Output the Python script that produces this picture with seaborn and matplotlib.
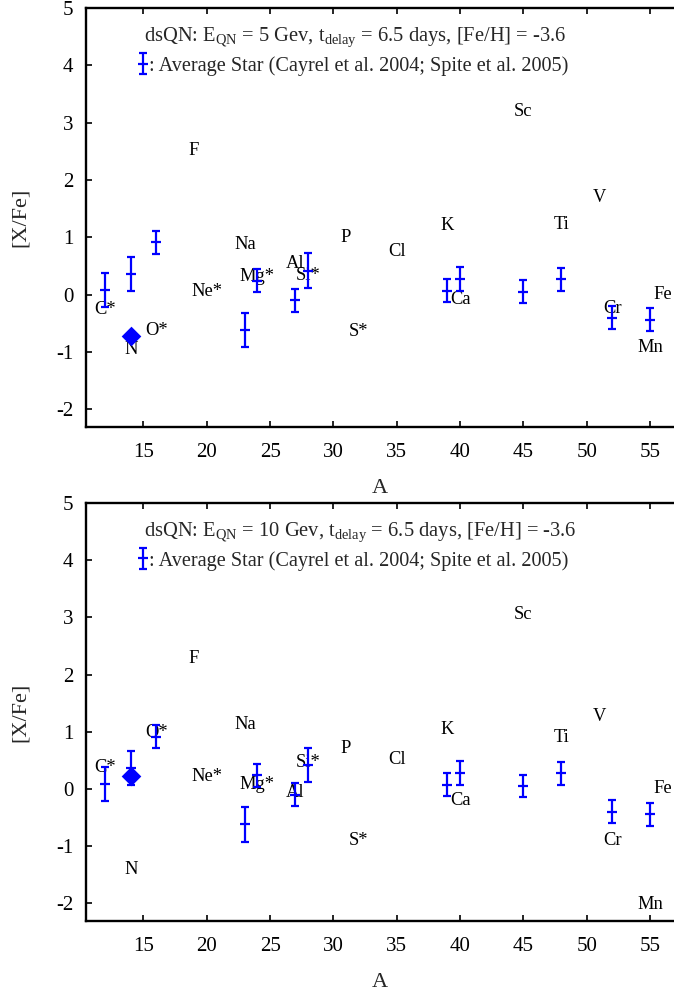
import numpy as np
import pandas as pd
import matplotlib
matplotlib.use("Agg")
import matplotlib.pyplot as plt
import seaborn as sns

# Element labels placed at (mass number, model [X/Fe])
elements = ["C*", "N", "O*", "F", "Ne*", "Na", "Mg*", "Al", "Si*", "P",
            "S*", "Cl", "K", "Ca", "Sc", "Ti", "V", "Cr", "Mn", "Fe"]
mass_number = [12, 14, 16, 19, 20, 23, 24, 27, 28, 31,
               32, 35, 39, 40, 45, 48, 51, 52, 55, 56]
xfe_5gev = [-0.26, -0.95, -0.62, 2.52, 0.06, 0.87, 0.32, 0.55, 0.33, 1.00,
            -0.65, 0.76, 1.20, -0.09, 3.19, 1.23, 1.70, -0.24, -0.92, 0.00]
xfe_10gev = [0.38, -1.41, 0.99, 2.28, 0.21, 1.12, 0.08, -0.07, 0.46, 0.70,
             -0.90, 0.51, 1.04, -0.21, 3.05, 0.90, 1.26, -0.90, -2.02, 0.00]

# Average metal-poor star abundances with uncertainties
star_A = [12, 14, 16, 23, 24, 27, 28, 39, 40, 45, 48, 52, 55]
star_xfe = [0.08, 0.36, 0.91, -0.62, 0.24, -0.10, 0.42, 0.07, 0.28, 0.05, 0.27, -0.40, -0.44]
star_err = [0.30, 0.30, 0.20, 0.30, 0.20, 0.20, 0.30, 0.20, 0.21, 0.20, 0.20, 0.20, 0.20]

# Nitrogen point for each model
nitrogen_A = 14
nitrogen_xfe = [-0.72, 0.22]

energies = [5, 10]
x_ticks = [15, 20, 25, 30, 35, 40, 45, 50, 55]
y_ticks = [-2, -1, 0, 1, 2, 3, 4, 5]

sns.set_style("ticks")
plt.rcParams.update({
    "font.family": ["Liberation Serif", "DejaVu Serif"],
    "mathtext.fontset": "custom",
    "mathtext.rm": "Liberation Serif",
    "mathtext.it": "Liberation Serif:italic",
    "axes.unicode_minus": False,
})

W, H = 674, 994
fig = plt.figure(figsize=(W / 100, H / 100), dpi=100)
positions = [[86 / W, 567 / H, 588 / W, 419 / H],
             [86 / W, 73 / H, 588 / W, 418 / H]]

star_df = pd.DataFrame({"A": star_A, "xfe": star_xfe, "err": star_err})

for pos, energy, model, n_val in zip(positions, energies, [xfe_5gev, xfe_10gev], nitrogen_xfe):
    ax = fig.add_axes(pos)
    ax.set_facecolor("white")

    for el, a, v in zip(elements, mass_number, model):
        ax.text(a, v, el, ha="center", va="center", fontsize=13.3, color="black", zorder=2)

    eb = ax.errorbar(star_df["A"], star_df["xfe"], yerr=star_df["err"], fmt="_", ls="none",
                     color="blue", ecolor="blue", elinewidth=1.6, capsize=2.6, capthick=1.6,
                     markersize=7.5, mew=1.6, zorder=3)

    nd = pd.DataFrame({"A": [nitrogen_A], "xfe": [n_val]})
    sns.scatterplot(data=nd, x="A", y="xfe", marker="D", s=100, color="blue",
                    edgecolor="blue", linewidth=0, ax=ax, zorder=4, legend=False)

    ax.set_xlim(10.47, 56.88)
    ax.set_ylim(-2.31, 5)
    ax.set_xticks(x_ticks)
    ax.set_yticks(y_ticks)
    ax.tick_params(axis="both", direction="in", length=4.3, width=1.2, top=True,
                   right=False, labelsize=15, color="black", labelcolor="black")
    ax.tick_params(axis="x", pad=11.5)
    ax.tick_params(axis="y", pad=9)
    for side in ["left", "bottom", "top"]:
        ax.spines[side].set_linewidth(1.7)
        ax.spines[side].set_color("black")
    ax.spines["right"].set_visible(False)

    ax.set_xlabel("A", fontsize=16, labelpad=12)
    ax.set_ylabel("[X/Fe]", fontsize=16, labelpad=19)

    ax.text(0.0986, 0.931,
            "dsQN: $\\mathrm{E}_{\\mathrm{QN}}$ = %d Gev, $\\mathrm{t}_{\\mathrm{delay}}$ = 6.5 days, [Fe/H] = -3.6" % energy,
            transform=ax.transAxes, ha="left", va="center", fontsize=14.8)
    ax.legend([eb], [": Average Star (Cayrel et al. 2004; Spite et al. 2005)"],
              loc="center left", bbox_to_anchor=(0.0874, 0.862), frameon=False,
              borderpad=0, borderaxespad=0, handlelength=0.55, handletextpad=0.0,
              fontsize=14.6, numpoints=1,
              handler_map=None)

fig.savefig("out.png", dpi=100)
